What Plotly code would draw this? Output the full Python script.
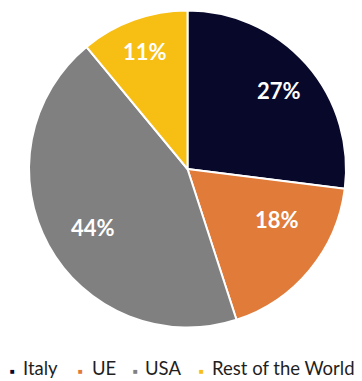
import math
import plotly.graph_objects as go

labels = ["Italy", "UE", "USA", "Rest of the World"]
values = [27, 18, 44, 11]
colors = ["#08082B", "#E07B39", "#808080", "#F7BE13"]

# label placement style (radial fraction and angular nudge in degrees)
label_k = [0.76, 0.65, 0.70, 0.79]
label_nudge = [1, -10, -3, 0]

W, H = 362, 381
cx, cy, r = 187.5, 169, 158.5

fig = go.Figure(go.Pie(
    labels=labels, values=values, sort=False, direction="clockwise", rotation=0,
    marker=dict(colors=colors, line=dict(color="white", width=2)),
    textinfo="none",
    domain=dict(x=[(cx - r) / W, (cx + r) / W], y=[1 - (cy + r) / H, 1 - (cy - r) / H]),
    hoverinfo="skip", showlegend=False,
))

total = sum(values)
cum = 0
anns = []
for lab, v, k, nd in zip(labels, values, label_k, label_nudge):
    mid = (cum + v / 2) / total * 360 + nd
    cum += v
    a = math.radians(mid)
    px = cx + k * r * math.sin(a)
    py = cy - k * r * math.cos(a)
    anns.append(dict(x=px / W, y=1 - py / H, xref="paper", yref="paper",
                     text=f"<b>{round(v / total * 100)}%</b>", showarrow=False,
                     font=dict(color="white", size=22, family="Lato"),
                     xanchor="center", yanchor="middle"))

# legend (single row, small square markers)
marker_x = [12, 80, 135, 201]
text_x = [21, 90, 143, 210]
leg_y = 368
for lab, col, mx, tx in zip(labels, colors, marker_x, text_x):
    anns.append(dict(x=mx / W, y=1 - 370 / H, xref="paper", yref="paper",
                     text="■", showarrow=False, font=dict(color=col, size=8),
                     xanchor="center", yanchor="middle"))
    anns.append(dict(x=tx / W, y=1 - leg_y / H, xref="paper", yref="paper",
                     text=lab, showarrow=False,
                     font=dict(color="#1f1f1f", size=18.5, family="Lato"),
                     xanchor="left", yanchor="middle"))

fig.update_layout(
    width=W, height=H, margin=dict(l=0, r=0, t=0, b=0),
    paper_bgcolor="white", plot_bgcolor="white",
    showlegend=False, annotations=anns,
)
fig.write_html("out.html")
